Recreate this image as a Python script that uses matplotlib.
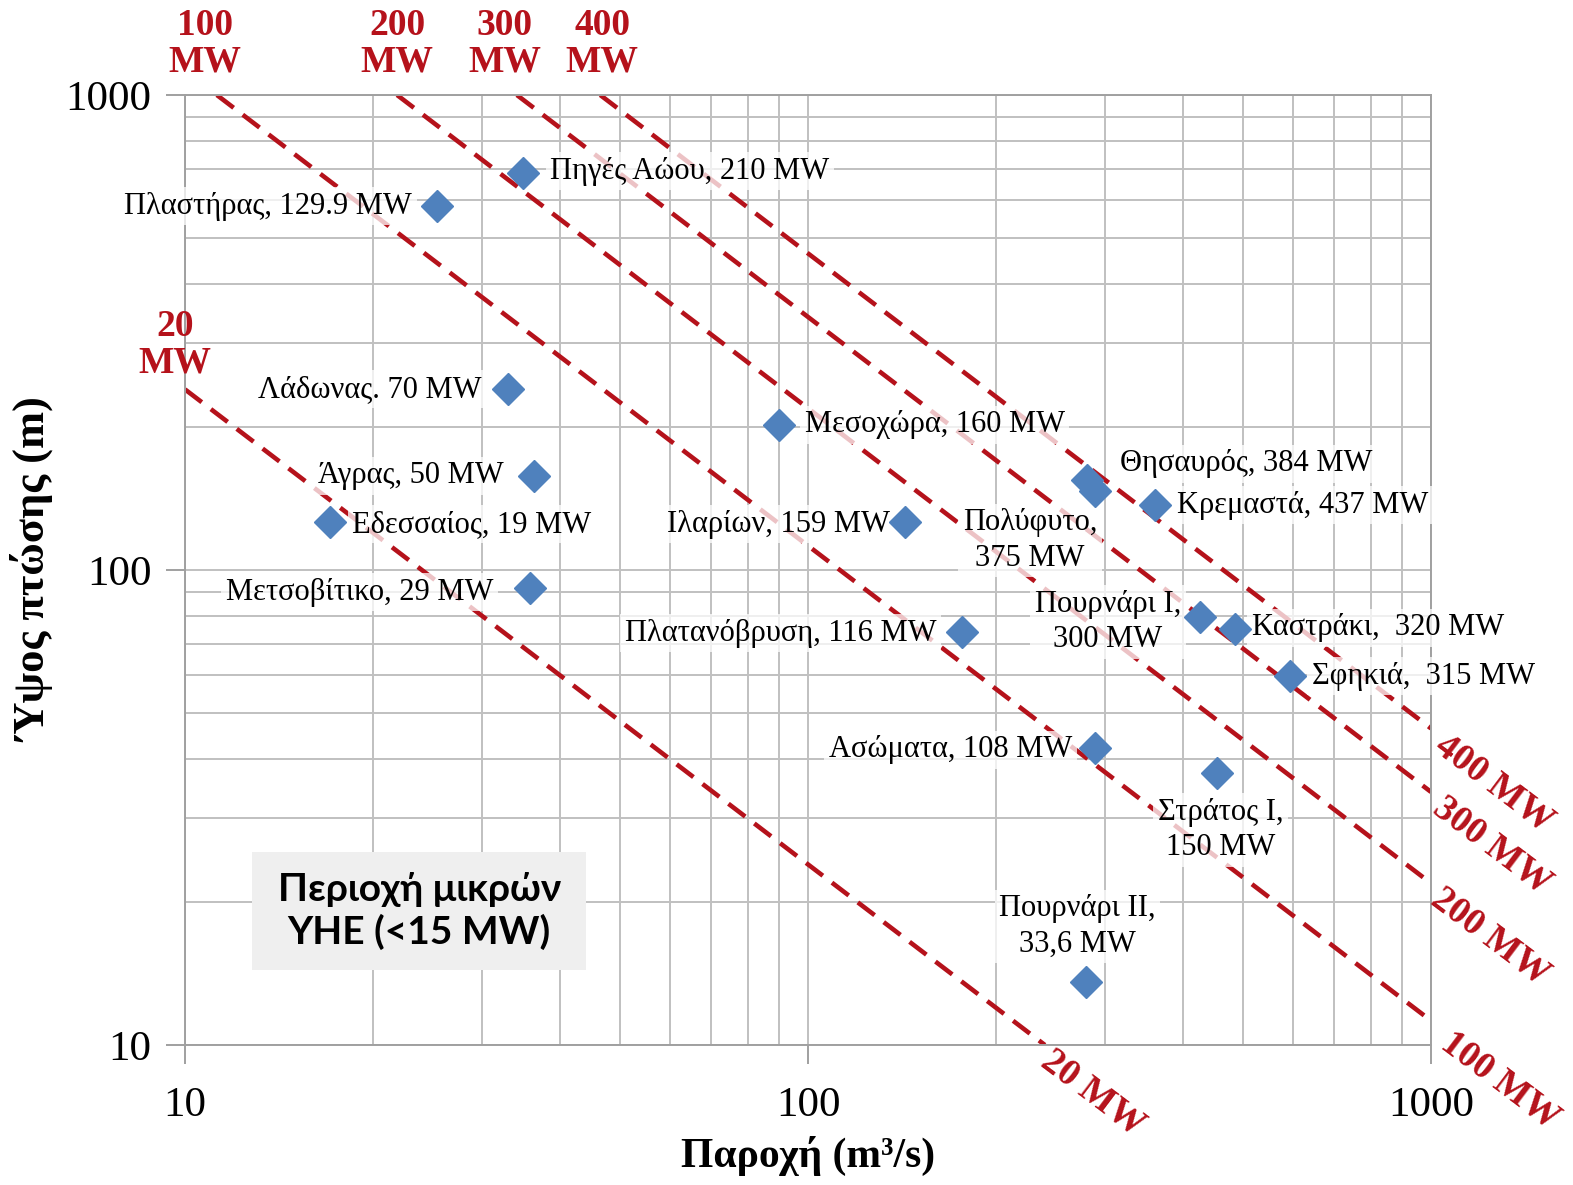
import matplotlib

matplotlib.use("Agg")
import matplotlib.pyplot as plt
from matplotlib.patches import Rectangle

plt.rcParams["font.family"] = ["Liberation Serif", "DejaVu Serif"]

# hydro stations: flow (m3/s) and head (m)
stations = [
    "Πηγές Αώου, 210 MW", "Πλαστήρας, 129.9 MW", "Λάδωνας. 70 MW", "Μεσοχώρα, 160 MW",
    "Άγρας, 50 MW", "Εδεσσαίος, 19 MW", "Ιλαρίων, 159 MW", "Μετσοβίτικο, 29 MW",
    "Θησαυρός, 384 MW", "Πολύφυτο,\n375 MW", "Κρεμαστά, 437 MW", "Πουρνάρι Ι,\n300 MW",
    "Καστράκι,  320 MW", "Σφηκιά,  315 MW", "Πλατανόβρυση, 116 MW", "Ασώματα, 108 MW",
    "Στράτος Ι,\n150 MW", "Πουρνάρι ΙΙ,\n33,6 MW",
]
flow = [34.9, 25.4, 33.0, 89.7, 36.3, 17.1, 143, 35.8, 280, 289, 361, 426, 484, 594, 177, 289, 454, 279]
head = [685, 583, 240, 202, 158, 126, 126, 91.6, 155, 147, 137, 79.6, 75.2, 59.8, 74.0, 42.2, 37.4, 13.6]

power_mw = [20, 100, 200, 300, 400]
qh_product = [2400, 11250, 21900, 34100, 46400]

# label placement, pixels from the marker
label_dx = [27, -25, -26, 26, -30, 22, -15, -37, 33, -65, 22, -92, 17, 22, -26, -23, 3, -8]
label_dy = [2, 0, 0, 0, 0, -2, -2, -4, 16, -50, 0, -5, 1, 0, -1, -2, -57, 55]
label_ha = ["left", "right", "right", "left", "right", "left", "right", "right", "left", "center",
            "left", "center", "left", "left", "right", "right", "center", "center"]

RED = "#b5121b"
BLUE = "#4f81bd"
GRID = "#c0c0c0"

fig = plt.figure(figsize=(15.73, 11.85), dpi=100)
ax = fig.add_axes([185 / 1573, 1 - 1045 / 1185, 1246 / 1573, 950 / 1185])
ax.set_xscale("log")
ax.set_yscale("log")
ax.set_xlim(10, 1000)
ax.set_ylim(10, 1000)

ax.grid(True, which="both", color=GRID, linewidth=1.4)
ax.set_axisbelow(True)
for side in ax.spines.values():
    side.set_color("#a0a0a0")
    side.set_linewidth(1.4)
ax.tick_params(which="major", direction="out", length=14, width=1.4, color="#a0a0a0",
               labelsize=31, pad=10)
ax.tick_params(which="minor", length=0)
ax.set_xticks([10, 100, 1000], ["10", "100", "1000"])
ax.set_yticks([10, 100, 1000], ["10", "100", "1000"])
ax.tick_params(axis="x", pad=16)

top_dx = [-10, -12, 0, -12, 2]
top_dy = [45, 51, 51, 51, 51]
end_dx = [0, 14, 4, 6, 8]
end_dy = [-12, -18, -12, -12, -14]
for p, qh, tdx, tdy, edx, edy in zip(power_mw, qh_product, top_dx, top_dy, end_dx, end_dy):
    q0 = max(10, qh / 1000)
    q1 = min(1000, qh / 10)
    ax.plot([q0, q1], [qh / q0, qh / q1], color=RED, linestyle=(0, (4.6, 2.5)), linewidth=3.3, zorder=2)
    ax.annotate(f"{p}\nMW", (q0, qh / q0), xytext=(tdx, tdy), textcoords="offset pixels",
                ha="center", va="center", color=RED, fontsize=27, fontweight="bold",
                linespacing=1.05, annotation_clip=False)
    ax.annotate(f"{p} MW", (q1, qh / q1), xytext=(edx, edy), textcoords="offset pixels",
                ha="left", va="center", rotation=-37, rotation_mode="anchor", color=RED,
                fontsize=27, fontweight="bold", annotation_clip=False)

ax.plot(flow, head, linestyle="none", marker="D", markersize=16, color=BLUE, zorder=4)
for name, q, h, dx, dy, ha in zip(stations, flow, head, label_dx, label_dy, label_ha):
    ax.annotate(name, (q, h), xytext=(dx, dy), textcoords="offset pixels", ha=ha, va="center",
                fontsize=22, linespacing=1.3, zorder=3,
                bbox=dict(boxstyle="square,pad=0.15", facecolor="white", edgecolor="none", alpha=0.75))

ax.add_patch(Rectangle((0.054, 0.079), 0.268, 0.124, transform=ax.transAxes,
                       facecolor="#efefef", edgecolor="none", zorder=3))
ax.text(0.188, 0.141, "Περιοχή μικρών\nΥΗΕ (<15 MW)", transform=ax.transAxes,
        ha="center", va="center", fontsize=28, fontweight="bold", family=["Lato", "DejaVu Sans"],
        linespacing=1.2, zorder=4)

ax.set_xlabel("Παροχή (m³/s)", fontsize=30, fontweight="bold", labelpad=8)
ax.set_ylabel("Ύψος πτώσης (m)", fontsize=32, fontweight="bold", labelpad=8)

fig.savefig("out.png")
